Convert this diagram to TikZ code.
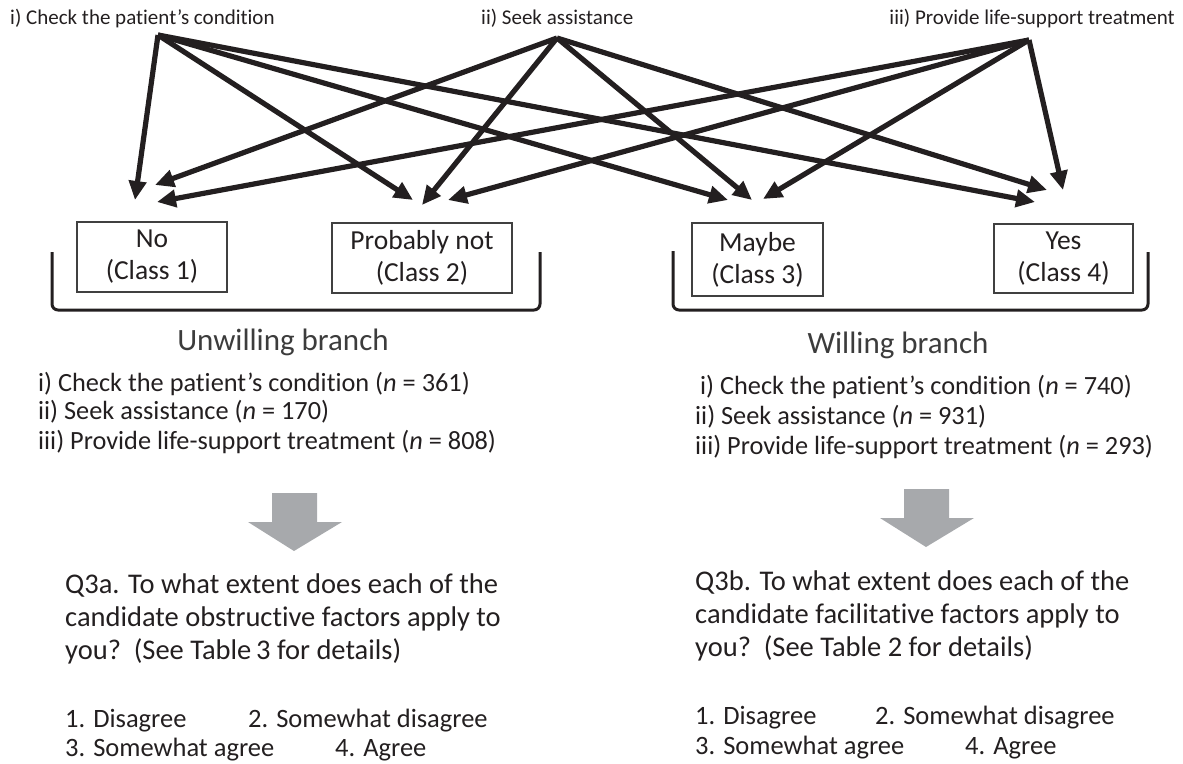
\documentclass[tikz,border=0pt]{standalone}
\usepackage{fontspec}
\setmainfont{Carlito}[Ligatures={NoCommon,NoRare}]
\usetikzlibrary{arrows.meta}
\definecolor{ink}{HTML}{231F20}
\definecolor{boxline}{HTML}{404040}
\definecolor{branchgray}{HTML}{3C3C3C}
\definecolor{bigarrow}{HTML}{A7A9AC}
\begin{document}
\begin{tikzpicture}[x=1pt,y=-1pt,
  toplabel/.style={font=\fontsize{21}{25}\selectfont, text=ink, inner sep=0},
  classbox/.style={draw=boxline, line width=1.3pt, inner sep=0, align=center, text=ink,
     font=\fontsize{27.5}{32}\selectfont},
  branchlabel/.style={font=\fontsize{31}{36}\selectfont, text=branchgray, inner sep=0, anchor=base},
  listtext/.style={font=\fontsize{26.3}{30}\selectfont, text=ink, inner sep=0, anchor=base west},
  qtext/.style={font=\fontsize{28.5}{33}\selectfont, text=ink, inner sep=0, anchor=base west},
  opttext/.style={font=\fontsize{26.5}{31}\selectfont, text=ink, inner sep=0, anchor=base west},
  conn/.style={-{Triangle[length=19pt,width=17pt]}, line width=5.2pt, draw=ink},
  bracket/.style={line width=3pt, draw=ink, rounded corners=6pt},
  bigarr/.style={fill=bigarrow, draw=none}
]
\useasboundingbox (0,0) rectangle (1183,763);

% top labels
\node[toplabel, anchor=base west] (L1) at (10,24) {i) Check the patient’s condition};
\node[toplabel, anchor=base west] (L2) at (481,24) {ii) Seek assistance};
\node[toplabel, anchor=base east] (L3) at (1175,24) {iii) Provide life-support treatment};

% sources
\coordinate (s1) at (158,35);
\coordinate (s2) at (557,38);
\coordinate (s3) at (1029,40);

% tips
\coordinate (n1) at (135,200);
\coordinate (n2) at (155,185);
\coordinate (n3) at (157,202);
\coordinate (p1) at (413,200);
\coordinate (p2) at (422,205);
\coordinate (p3) at (448,200);
\coordinate (m1) at (728,200);
\coordinate (m2) at (752,200);
\coordinate (m3) at (763,199);
\coordinate (y1) at (1035,202);
\coordinate (y2) at (1047,190);
\coordinate (y3) at (1063,190);

% connectors
\draw[conn] (s1) -- (n1);
\draw[conn] (s1) -- (p1);
\draw[conn] (s1) -- (m1);
\draw[conn] (s1) -- (y1);
\draw[conn] (s2) -- (n2);
\draw[conn] (s2) -- (p2);
\draw[conn] (s2) -- (m2);
\draw[conn] (s2) -- (y2);
\draw[conn] (s3) -- (n3);
\draw[conn] (s3) -- (p3);
\draw[conn] (s3) -- (m3);
\draw[conn] (s3) -- (y3);

% class boxes
\node[classbox, minimum width=150pt, minimum height=70pt] (no) at (152,257) {No\\(Class 1)};
\node[classbox, minimum width=180pt, minimum height=70pt] (pn) at (422,258) {Probably not\\(Class 2)};
\node[classbox, minimum width=131pt, minimum height=73pt] (mb) at (757.5,259.5) {Maybe\\(Class 3)};
\node[classbox, minimum width=139pt, minimum height=69pt] (ys) at (1063.5,258.5) {Yes\\(Class 4)};

% brackets
\draw[bracket] (52,252) -- (52,310) -- (540,310) -- (540,252);
\draw[bracket] (673,251) -- (673,310) -- (1148,310) -- (1148,252);

% branch labels
\node[branchlabel] (ub) at (283,350) {Unwilling branch};
\node[branchlabel] (wb) at (898,353) {Willing branch};

% lists
\node[listtext] (ul1) at (38,391) {i) Check the patient’s condition (\textit{n} = 361)};
\node[listtext] (ul2) at (38,419) {ii) Seek assistance (\textit{n} = 170)};
\node[listtext] (ul3) at (38,449) {iii) Provide life-support treatment (\textit{n} = 808)};

\node[listtext] (wl1) at (700,394) {i) Check the patient’s condition (\textit{n} = 740)};
\node[listtext] (wl2) at (695,424) {ii) Seek assistance (\textit{n} = 931)};
\node[listtext] (wl3) at (695,454) {iii) Provide life-support treatment (\textit{n} = 293)};

% big gray arrows
\fill[bigarr] (272,493) -- (317,493) -- (317,522) -- (342,522) -- (294,551) -- (248,522) -- (272,522) -- cycle;
\fill[bigarr] (904,489) -- (949,489) -- (949,518) -- (974,518) -- (926,547) -- (880,518) -- (904,518) -- cycle;

% questions
\node[qtext] (qa1) at (65,593) {Q3a. To what extent does each of the};
\node[qtext] (qa2) at (65,626) {candidate obstructive factors apply to};
\node[qtext] (qa3) at (65,659) {you?\ \ (See Table\,3 for details)};
\node[opttext] (qa4) at (65,727) {1. Disagree};
\node[opttext] (qa5) at (248,727) {2. Somewhat disagree};
\node[opttext] (qa6) at (65,756) {3. Somewhat agree};
\node[opttext] (qa7) at (335,756) {4. Agree};

\node[qtext] (qb1) at (695,590) {Q3b. To what extent does each of the};
\node[qtext] (qb2) at (695,623) {candidate facilitative factors apply to};
\node[qtext] (qb3) at (695,656) {you?\ \ (See Table 2 for details)};
\node[opttext] (qb4) at (695,724) {1. Disagree};
\node[opttext] (qb5) at (875,724) {2. Somewhat disagree};
\node[opttext] (qb6) at (695,754) {3. Somewhat agree};
\node[opttext] (qb7) at (965,754) {4. Agree};
\end{tikzpicture}
\end{document}
